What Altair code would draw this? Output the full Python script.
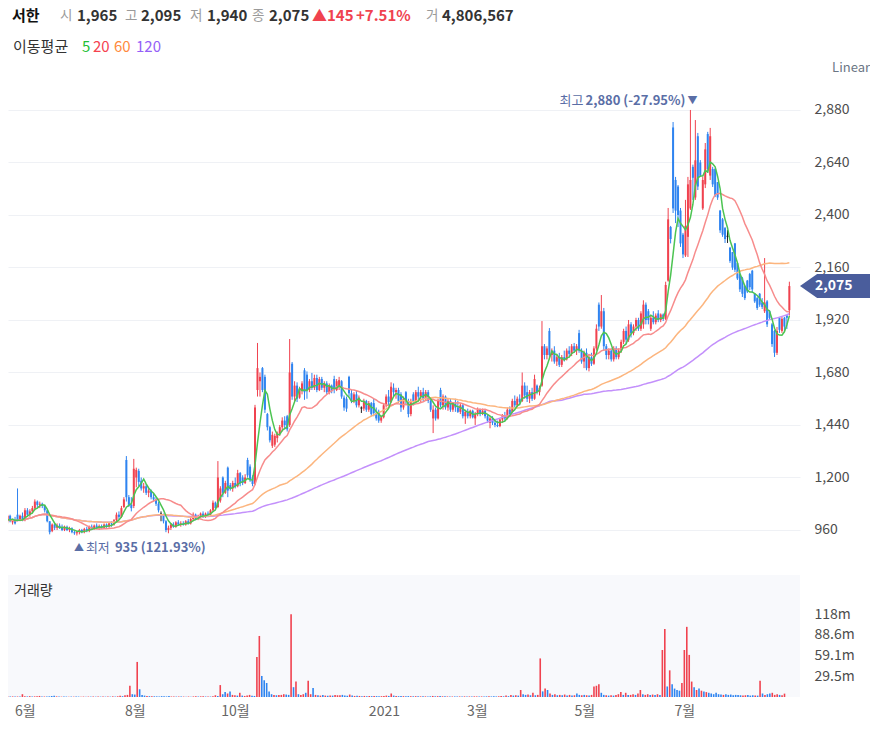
import altair as alt
import pandas as pd

# ---------------- data: daily (open, high, low, close) per month ----------------
may20 = [(1000,1010,975,985),(985,1030,980,1020),(1020,1035,995,1000),(1000,1030,990,1025),
         (1025,1030,995,1000),(995,1010,985,1005),(1005,1020,985,990),(1030,1150,1000,1005)]
jun20 = [(1005,1030,1000,1025),(1025,1040,1000,1005),(1005,1060,1000,1050),(1050,1060,1020,1030),
         (1030,1055,1020,1045),(1045,1070,1035,1060),(1060,1100,1050,1090),(1090,1095,1060,1075),
         (1075,1090,1060,1080),(1080,1085,1060,1070),(1070,1075,1040,1050),(1050,1050,995,1000),
         (1000,1000,940,950),(955,990,950,985),(985,995,960,970),(970,990,960,980),
         (980,990,965,970),(970,985,955,960),(960,980,955,975),(975,980,955,960),
         (960,975,950,968),(968,972,945,950)]
jul20 = [(950,960,938,945),(945,955,935,950),(950,965,940,960),(960,965,945,950),
         (950,970,945,965),(965,975,950,955),(955,980,950,975),(975,985,960,965),
         (965,985,960,980),(980,990,965,970),(970,985,960,978),(978,985,965,970),
         (970,990,965,985),(985,990,970,975),(975,995,970,990),(990,1000,975,985),
         (985,1010,980,1005),(1005,1040,1000,1030),(1030,1045,1010,1020),(1020,1070,1015,1060),
         (1065,1110,1060,1100),(1280,1298,1090,1110),(1110,1120,1065,1075)]
aug20 = [(1075,1110,1045,1060),(1070,1285,1060,1240),(1200,1245,1155,1235),(1230,1240,1160,1180),
         (1185,1200,1140,1150),(1150,1175,1130,1160),(1160,1170,1120,1130),(1130,1150,1110,1140),
         (1140,1145,1100,1110),(1110,1130,1090,1100),(1100,1110,1070,1080),(1080,1090,1040,1050),
         (1030,1045,1000,1030),(1030,1035,990,1000),(1000,1005,950,960),(960,980,945,970),
         (970,990,960,985),(985,995,970,975),(975,1000,970,995),(995,1005,980,985)]
sep20 = [(985,1000,975,990),(990,1000,980,985),(985,1005,980,1000),(1000,1010,985,990),
         (990,1015,985,1010),(1010,1040,1000,1030),(1030,1035,1005,1010),(1010,1030,1005,1025),
         (1025,1040,1015,1035),(1035,1045,1015,1020),(1020,1040,1015,1035),(1035,1045,1025,1030),
         (1030,1055,1025,1050),(1050,1095,1045,1085),(1085,1090,1050,1060),(1065,1275,1060,1200),
         (1095,1160,1085,1150),(1200,1205,1110,1130),(1130,1185,1125,1175),(1245,1250,1110,1140),
         (1165,1175,1140,1150)]
oct20 = [(1150,1185,1135,1175),(1175,1200,1150,1160),(1160,1235,1155,1220),(1220,1225,1160,1175),
         (1200,1210,1165,1175),(1175,1215,1170,1200),(1280,1290,1200,1210),(1250,1260,1180,1190),
         (1200,1210,1160,1170),(1170,1532,1165,1520),(1600,1815,1570,1700),(1640,1680,1570,1660),
         (1700,1705,1590,1600),(1660,1670,1495,1510),(1490,1495,1415,1430),(1430,1435,1360,1370),
         (1345,1410,1335,1395),(1350,1400,1340,1390),(1380,1410,1360,1400)]
nov20 = [(1400,1440,1390,1430),(1430,1475,1410,1460),(1460,1480,1420,1440),(1480,1486,1410,1420),
         (1440,1833,1431,1680),(1720,1728,1555,1570),(1570,1640,1550,1620),(1620,1635,1545,1560),
         (1565,1615,1560,1605),(1600,1640,1580,1630),(1690,1700,1555,1590),(1670,1685,1560,1600),
         (1600,1650,1590,1640),(1640,1678,1600,1610),(1610,1670,1600,1655),(1655,1670,1590,1600),
         (1600,1660,1595,1650),(1650,1660,1600,1610),(1610,1640,1590,1630),(1630,1640,1580,1590),
         (1590,1630,1580,1620)]
dec20 = [(1620,1625,1585,1595),(1650,1665,1585,1600),(1600,1650,1595,1640),(1620,1660,1600,1645),
         (1640,1645,1560,1570),(1565,1575,1505,1520),(1560,1570,1500,1515),(1660,1665,1570,1585),
         (1585,1600,1540,1550),(1550,1590,1540,1580),(1580,1595,1520,1530),(1530,1575,1520,1565),
         (1515,1525,1495,1515),(1515,1560,1505,1550),(1550,1555,1500,1510),(1510,1550,1500,1540),
         (1540,1545,1480,1490),(1540,1560,1480,1495),(1495,1520,1460,1470),(1500,1510,1450,1460),
         (1460,1480,1450,1475)]
jan21 = [(1475,1540,1470,1530),(1530,1580,1520,1570),(1570,1600,1530,1545),(1545,1635,1540,1615),
         (1610,1630,1570,1590),(1590,1610,1560,1600),(1600,1610,1540,1550),(1580,1590,1500,1520),
         (1520,1570,1510,1560),(1590,1595,1530,1545),(1545,1560,1475,1490),(1490,1560,1480,1550),
         (1580,1590,1530,1545),(1545,1600,1540,1590),(1590,1615,1555,1570),(1570,1600,1540,1590),
         (1590,1610,1550,1560),(1560,1600,1555,1590),(1590,1600,1540,1550),(1550,1560,1500,1510)]
feb21 = [(1470,1530,1403,1510),(1510,1520,1460,1470),(1470,1560,1465,1550),(1600,1610,1520,1530),
         (1530,1580,1510,1570),(1570,1575,1510,1520),(1520,1560,1505,1550),(1550,1560,1500,1510),
         (1510,1545,1500,1540),(1540,1560,1500,1520),(1520,1550,1495,1500),(1500,1540,1490,1530),
         (1530,1535,1470,1480),(1480,1510,1445,1500),(1500,1515,1470,1480),(1480,1510,1470,1505),
         (1505,1510,1470,1475),(1470,1500,1440,1490)]
mar21 = [(1490,1520,1480,1510),(1510,1515,1480,1490),(1490,1515,1485,1505),(1505,1510,1470,1480),
         (1480,1490,1450,1460),(1450,1480,1425,1470),(1470,1480,1440,1450),(1450,1465,1430,1440),
         (1440,1460,1430,1435),(1435,1470,1430,1465),(1465,1490,1450,1480),(1480,1500,1460,1470),
         (1470,1520,1465,1510),(1510,1525,1480,1490),(1500,1560,1495,1550),(1550,1575,1520,1530),
         (1530,1570,1520,1560),(1560,1580,1530,1545),(1550,1680,1545,1620),(1620,1635,1560,1575),
         (1590,1620,1545,1560),(1560,1600,1540,1590)]
apr21 = [(1590,1610,1550,1560),(1560,1670,1555,1650),(1620,1625,1580,1590),(1590,1620,1575,1610),
         (1620,1915,1615,1800),(1800,1810,1740,1760),(1760,1800,1740,1790),(1870,1883,1740,1760),
         (1760,1790,1730,1780),(1780,1800,1720,1730),(1730,1760,1710,1750),(1750,1770,1705,1715),
         (1715,1760,1705,1750),(1750,1780,1730,1740),(1740,1790,1735,1780),(1780,1800,1750,1765),
         (1765,1810,1755,1800),(1800,1815,1770,1780),(1780,1810,1760,1800),(1860,1875,1770,1780),
         (1780,1790,1720,1730),(1730,1780,1700,1770)]
may21 = [(1770,1790,1690,1700),(1700,1760,1685,1750),(1750,1770,1710,1720),(1720,1800,1715,1790),
         (1790,1900,1780,1880),(1990,2000,1870,1890),(1890,2034,1880,1960),(1960,1975,1780,1800),
         (1800,1810,1740,1760),(1760,1790,1740,1780),(1780,1790,1730,1740),(1740,1800,1730,1790),
         (1790,1800,1740,1750),(1750,1790,1740,1780),(1780,1830,1770,1820),(1820,1880,1810,1870),
         (1870,1890,1810,1830),(1830,1920,1820,1900),(1900,1910,1840,1860)]
jun21 = [(1860,1900,1850,1890),(1890,1930,1870,1920),(1920,1930,1870,1880),(1880,1960,1870,1950),
         (1900,2010,1880,1990),(1990,2000,1900,1920),(1960,1970,1900,1920),(1880,1940,1870,1930),
         (1930,1960,1900,1910),(1910,1950,1900,1940),(1950,1965,1910,1920),(1920,1950,1910,1945),
         (1945,1950,1915,1925),(1925,2095,1920,2080),(2100,2432,2095,2380),(2345,2350,2270,2290),
         (2800,2825,2409,2430),(2560,2574,2363,2420),(2530,2537,2345,2400),(2420,2432,2254,2270),
         (2310,2318,2203,2220),(2215,2469,2208,2350)]
jul21 = [(2300,2574,2208,2540),(2430,2880,2423,2560),(2620,2630,2469,2570),(2480,2834,2469,2650),
         (2760,2775,2514,2530),(2640,2651,2574,2580),(2430,2574,2423,2560),(2540,2729,2523,2700),
         (2770,2780,2592,2610),(2580,2798,2560,2760),(2610,2620,2528,2540),(2610,2615,2482,2490),
         (2550,2551,2469,2480),(2420,2423,2318,2330),(2380,2386,2300,2310),(2340,2345,2272,2290),
         (2300,2331,2272,2300),(2250,2254,2181,2190),(2230,2231,2149,2160),(2270,2272,2139,2150),
         (2180,2181,2103,2110),(2130,2135,2048,2060)]
aug21 = [(2110,2117,2025,2040),(2075,2080,2011,2020),(2100,2103,2043,2050),(2130,2135,2057,2070),
         (2145,2149,2043,2060),(2040,2043,1998,2005),(2020,2025,1966,1975),(2040,2043,1980,1990),
         (2000,2020,1970,1980),(1960,2203,1952,2000),(2005,2011,1888,1900),(1960,1966,1920,1930),
         (1900,1906,1797,1810),(1870,1874,1751,1770),(1770,1888,1760,1870),(1930,1934,1861,1875),
         (1870,1934,1861,1925),(1930,1934,1870,1890),(1940,1943,1879,1930),(1965,2095,1940,2075)]

# daily volume, millions of shares
vmay20 = [0.9,0.7,0.6,0.8,0.6,0.7,0.6,4.0]
vjun20 = [1.0,0.8,1.2,0.7,0.9,1.1,1.5,0.8,0.7,0.6,0.9,1.4,1.8,0.9,0.6,0.5,0.7,0.6,0.5,0.6,0.5,0.6]
vjul20 = [0.6,0.5,0.6,0.5,0.6,0.5,0.7,0.5,0.6,0.5,0.6,0.5,0.7,0.5,0.9,0.6,1.0,1.8,1.2,2.5,3.0,16.0,4.0]
vaug20 = [3.5,50.0,11.0,3.0,2.0,1.5,1.2,1.0,1.0,0.9,0.8,1.2,1.0,0.8,1.5,0.7,0.8,0.6,0.7,0.6]
vsep20 = [0.6,0.5,0.7,0.5,0.8,1.2,0.7,0.9,1.0,0.7,0.8,0.6,1.0,2.5,1.5,17.0,4.0,7.0,5.0,8.0,3.0]
voct20 = [2.5,2.0,6.0,2.0,1.5,2.0,3.0,1.8,1.5,57.0,87.0,30.0,24.0,20.0,8.0,4.0,3.0,2.5,3.0]
vnov20 = [3.0,4.0,3.5,3.0,118.0,14.0,22.0,4.0,3.0,4.0,6.0,23.0,4.0,13.0,3.0,2.5,2.0,3.0,2.0,1.8,2.0]
vdec20 = [2.0,3.0,2.5,2.5,3.0,2.0,1.8,3.5,2.0,1.5,1.8,1.5,1.2,1.5,1.2,1.4,1.2,1.5,1.3,1.0,1.2]
vjan21 = [1.5,2.0,1.5,5.0,2.0,1.5,1.2,1.5,1.2,1.0,1.3,1.1,1.0,1.2,1.0,0.9,1.0,0.9,0.8,1.0]
vfeb21 = [1.5,1.0,1.2,1.5,1.0,0.9,0.8,0.8,0.7,0.8,0.7,0.8,0.7,0.9,0.7,0.8,0.7,0.9]
vmar21 = [0.8,0.7,0.8,0.7,0.9,1.2,0.8,0.9,0.8,1.0,1.5,1.0,2.0,1.2,3.0,2.0,2.5,2.0,10.0,4.0,3.0,3.5]
vapr21 = [2.5,6.0,2.5,3.0,55.0,8.0,12.0,10.0,5.0,3.0,4.0,2.5,3.0,2.5,3.5,2.0,3.0,2.0,2.5,5.0,3.0,2.5]
vmay21 = [3.0,2.5,2.0,3.0,15.0,16.0,18.0,6.0,3.0,2.5,2.0,2.5,2.0,3.0,4.0,7.0,3.0,6.0,3.0]
vjun21 = [3.0,4.0,3.0,5.0,10.0,4.0,3.0,4.0,3.0,3.5,3.0,4.0,3.0,67.0,97.0,15.0,38.0,18.0,12.0,10.0,9.0,20.0]
vjul21 = [67.0,100.0,60.0,22.0,14.0,10.0,12.0,9.0,8.0,7.0,6.0,5.0,4.0,6.0,4.0,3.5,3.0,4.0,3.0,3.5,2.5,3.0]
vaug21 = [3.0,2.5,2.0,2.5,3.0,2.0,2.5,2.0,2.0,23.0,5.0,3.0,4.0,5.0,6.0,3.0,4.0,3.0,2.5,4.806567]

month_labels = ["6월", "8월", "10월", "2021", "3월", "5월", "7월"]
price_ticks = [960, 1200, 1440, 1680, 1920, 2160, 2400, 2640, 2880]
vol_ticks = [29.5e6, 59.1e6, 88.6e6, 118e6]

# ---------------- build table ----------------
ohlc_months = [may20, jun20, jul20, aug20, sep20, oct20, nov20, dec20,
               jan21, feb21, mar21, apr21, may21, jun21, jul21, aug21]
vol_months = [vmay20, vjun20, vjul20, vaug20, vsep20, voct20, vnov20, vdec20,
              vjan21, vfeb21, vmar21, vapr21, vmay21, vjun21, vjul21, vaug21]
rows, starts, i = [], [], 0
for m, vm in zip(ohlc_months, vol_months):
    assert len(m) == len(vm), (len(m), len(vm))
    starts.append(i)
    for (o, h, l, c), v in zip(m, vm):
        rows.append(dict(idx=i, o=o, h=h, l=l, c=c, v=v * 1e6))
        i += 1
df = pd.DataFrame(rows)
df["dir"] = ["up" if c > o else ("down" if c < o else "flat") for o, c in zip(df.o, df.c)]
prev_c = df.c.shift(1).fillna(df.o)
df["vdir"] = ["up" if c >= p else "down" for c, p in zip(df.c, prev_c)]
# month ticks: Jun20, Aug20, Oct20, Jan21, Mar21, May21, Jul21
month_ticks = [starts[k] for k in (1, 3, 5, 8, 10, 12, 14)]

last = df.iloc[-1]
prev_close = int(df.iloc[-2].c)
chg = int(last.c) - prev_close
pct = chg / prev_close * 100
hi_row = df.loc[df.h.idxmax()]
lo_row = df.loc[df.l.idxmin()]

# ---------------- styles ----------------
FONT = "Noto Sans CJK KR"
RED, BLUE = "#f0424f", "#2f84f0"
VRED, VBLUE = "#f5959b", "#86b6f3"
ANN = "#5a6ea6"
W, PH, VH = 792, 485, 122
PT = 80  # page y of the price plot top, for header placement

x_scale = alt.Scale(domain=[3.15, 323.3], nice=False, zero=False)
p_scale = alt.Scale(domain=[800, 3017], nice=False, zero=False)
p_axis = alt.Axis(orient="right", values=price_ticks, labelExpr="format(datum.value, ',')",
                  grid=True, gridColor="#eff1f5", domain=False, ticks=False, labelPadding=14,
                  labelFontSize=14, labelColor="#4d4d4d", title=None)
dir_color = alt.Color("dir:N", scale=alt.Scale(domain=["up", "down", "flat"],
                                               range=[RED, BLUE, "#222222"]), legend=None)

def X():
    return alt.X("idx:Q", scale=x_scale, axis=None)

def PY(f):
    return alt.Y(f"{f}:Q", scale=p_scale, axis=p_axis)

base = alt.Chart(df)
wicks = base.mark_rule(strokeWidth=1, clip=True).encode(x=X(), y=PY("l"), y2="h:Q", color=dir_color)
bodies = base.transform_calculate(
    top="datum.c == datum.o ? datum.c + 5 : datum.c"
).mark_rule(strokeWidth=2, clip=True).encode(x=X(), y=PY("o"), y2="top:Q", color=dir_color)

ma_specs = [(120, "#c390fb"), (60, "#fcb57e"), (20, "#f78c8c"), (5, "#4cc452")]
ma_layers = []
for n, col in ma_specs:
    ma_layers.append(
        base.transform_window(ma="mean(c)", frame=[-(n - 1), 0], sort=[alt.SortField("idx")])
        .mark_line(strokeWidth=1.5, color=col, clip=True)
        .encode(x=X(), y=PY("ma"))
    )

hi_df = pd.DataFrame([dict(idx=hi_row.idx, h=hi_row.h,
                           txt=f"{int(hi_row.h):,} ({(last.c - hi_row.h) / hi_row.h * 100:.2f}%)")])
lo_df = pd.DataFrame([dict(idx=lo_row.idx, l=lo_row.l,
                           txt=f"{int(lo_row.l):,} ({(last.c - lo_row.l) / lo_row.l * 100:.2f}%)")])
ann = [
    alt.Chart(hi_df).mark_text(text="▼", fontSize=10, color=ANN, dx=2, dy=-9, font=FONT)
    .encode(x=X(), y=PY("h")),
    alt.Chart(hi_df).mark_text(align="right", fontSize=13, fontWeight="bold", color=ANN, dx=-5, dy=-9, font=FONT)
    .encode(x=X(), y=PY("h"), text="txt:N"),
    alt.Chart(hi_df).mark_text(text="최고", align="right", fontSize=13, color=ANN, dx=-107, dy=-9, font=FONT)
    .encode(x=X(), y=PY("h")),
    alt.Chart(lo_df).mark_text(text="▲", fontSize=10, color=ANN, dx=2, dy=13, font=FONT)
    .encode(x=X(), y=PY("l")),
    alt.Chart(lo_df).mark_text(text="최저", align="left", fontSize=13, color=ANN, dx=9, dy=13, font=FONT)
    .encode(x=X(), y=PY("l")),
    alt.Chart(lo_df).mark_text(align="left", fontSize=13, fontWeight="bold", color=ANN, dx=38, dy=13, font=FONT)
    .encode(x=X(), y=PY("l"), text="txt:N"),
]

# close price marker on the right axis (arrow-shaped tag)
close_df = pd.DataFrame([dict(c=last.c, txt=f"{int(last.c):,}")])
ARROW = "M -1 0 L -0.51 -0.343 L 1 -0.343 L 1 0.343 L -0.51 0.343 Z"
close_box = alt.Chart(close_df).mark_point(shape=ARROW, size=70 * 70, filled=True, opacity=1,
                                           color="#4a5d9c", strokeWidth=0).encode(
    x=alt.value(W + 35), y=PY("c"))
close_txt = alt.Chart(close_df).mark_text(align="left", fontSize=14, fontWeight="bold",
                                          color="white", font=FONT).encode(
    x=alt.value(W + 15), y=PY("c"), text="txt:N")

# header texts
one = pd.DataFrame({"k": [0]})
def htext(t, px, py, color="#333333", weight="normal", size=15):
    return alt.Chart(one).mark_text(text=t, align="left", baseline="middle", fontSize=size,
                                    fontWeight=weight, color=color, font=FONT).encode(
        x=alt.value(px - 8), y=alt.value(py - PT))

GRAY = "#9a9a9a"
DARK = "#333333"
hy = 16
header = [
    # invisible anchor that fixes the top edge of the drawing at page y = 8
    alt.Chart(one).mark_rule(opacity=0, strokeOpacity=0).encode(
        x=alt.value(0), x2=alt.value(1), y=alt.value(8 - PT), y2=alt.value(9 - PT)),
    htext("서한", 12, hy, "#111111", "bold"),
    htext("시", 60, hy, GRAY, size=13.5), htext(f"{int(last.o):,}", 77, hy, DARK, "bold"),
    htext("고", 125, hy, GRAY, size=13.5), htext(f"{int(last.h):,}", 141, hy, DARK, "bold"),
    htext("저", 190, hy, GRAY, size=13.5), htext(f"{int(last.l):,}", 207, hy, DARK, "bold"),
    htext("종", 252, hy, GRAY, size=13.5), htext(f"{int(last.c):,}", 269, hy, DARK, "bold"),
    htext(f"▲{chg}", 312, hy, RED, "bold"),
    htext(f"+{pct:.2f}%", 356, hy, RED, "bold"),
    htext("거", 426, hy, GRAY, size=13.5), htext(f"{int(round(last.v)):,}", 442, hy, DARK, "bold"),
    htext("이동평균", 13, 47, DARK, "normal", 15),
    htext("5", 82, 47, "#1fbf35", "normal", 15),
    htext("20", 93, 47, "#f5424f", "normal", 15),
    htext("60", 114, 47, "#ff8a3d", "normal", 15),
    htext("120", 136, 47, "#9560f7", "normal", 15),
    alt.Chart(one).mark_text(text="Linear", align="right", baseline="middle", fontSize=13,
                             color="#6b7684", font=FONT).encode(x=alt.value(870 - 8), y=alt.value(68 - PT)),
]

price = alt.layer(wicks, bodies, *ma_layers, *ann, close_box, close_txt, *header).properties(
    width=W, height=PH)

# ---------------- volume panel ----------------
label_expr = " : ".join(f"datum.value == {t} ? '{lab}'" for t, lab in zip(month_ticks, month_labels)) + " : ''"
vx_axis = alt.Axis(values=month_ticks, labelExpr=label_expr, domain=False, ticks=False, grid=False,
                   labelPadding=7, labelFontSize=14, labelColor="#666666", title=None, labelFlush=False)
vy_axis = alt.Axis(orient="right", values=vol_ticks, labelExpr="format(datum.value/1e6, '.3~r') + 'm'",
                   grid=False, domain=False, ticks=False, labelPadding=14, labelFontSize=14,
                   labelColor="#4d4d4d", title=None)
vbars = base.mark_bar(size=1.6, clip=True).encode(
    x=alt.X("idx:Q", scale=x_scale, axis=vx_axis),
    y=alt.Y("v:Q", scale=alt.Scale(domain=[0, 173.9e6], nice=False), axis=vy_axis),
    color=alt.Color("vdir:N", scale=alt.Scale(domain=["up", "down"], range=[VRED, VBLUE]), legend=None),
)
vtitle = alt.Chart(one).mark_text(text="거래량", align="left", baseline="middle", fontSize=14,
                                  color=DARK, font=FONT).encode(x=alt.value(6), y=alt.value(16))
volume = alt.layer(vbars, vtitle).properties(
    width=W, height=VH, view=alt.ViewBackground(fill="#f8f9fc", stroke=None))

chart = alt.vconcat(price, volume, spacing=10).properties(
    padding={"left": 0, "top": 0, "right": 0, "bottom": 0}
).configure_view(stroke=None).configure_axis(labelFont=FONT).configure_text(font=FONT)

chart.save("out.html", embed_options={"renderer": "svg", "actions": False})
